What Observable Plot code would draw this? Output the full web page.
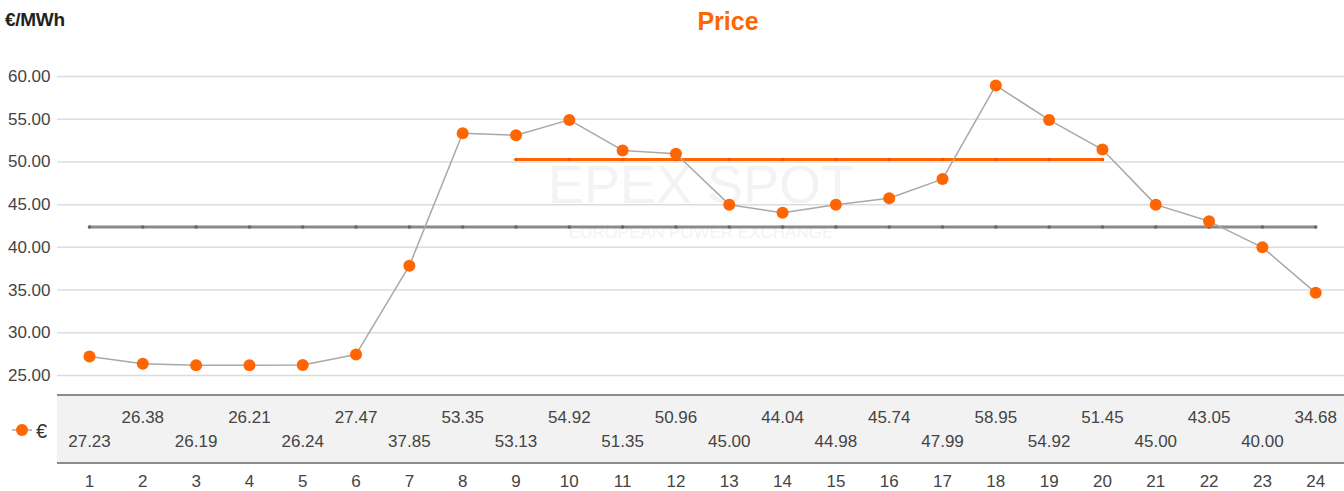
<!DOCTYPE html>
<html><head><meta charset="utf-8">
<script src="https://cdn.jsdelivr.net/npm/d3@7"></script>
<script src="https://cdn.jsdelivr.net/npm/@observablehq/plot@0.6"></script>
<style>
body{margin:0;background:#fff;font-family:"Liberation Sans",Arial,sans-serif;}
#wrap{position:relative;width:1344px;height:491px;overflow:hidden;}
#tablebg{position:absolute;left:57px;top:394px;width:1287px;height:66px;background:#f2f2f2;border-top:2px solid #8c8c8c;border-bottom:2px solid #8c8c8c;}
#title{position:absolute;left:0;width:1456px;top:7px;text-align:center;color:#ff6600;font-weight:bold;font-size:25px;}
#unit{position:absolute;left:5px;top:9px;font-weight:bold;font-size:19px;color:#222;letter-spacing:-0.3px;}
#legend{position:absolute;left:12px;top:420px;font-size:20px;color:#333;}
#chart{position:absolute;left:0;top:0;}
</style></head>
<body><div id="wrap">
<div id="tablebg"></div>
<div id="title">Price</div>
<div id="unit">€/MWh</div>
<div id="chart"></div>
<div id="legend"><svg width="24" height="20" style="vertical-align:-2px"><line x1="0" y1="10" x2="20" y2="10" stroke="#aaa" stroke-width="1.5"/><circle cx="10" cy="10" r="6" fill="#ff6600"/></svg>€</div>
</div>
<script>
const hours = d3.range(1, 25);
const prices = [27.23,26.38,26.19,26.21,26.24,27.47,37.85,53.35,53.13,54.92,51.35,50.96,45.00,44.04,44.98,45.74,47.99,58.95,54.92,51.45,45.00,43.05,40.00,34.68];
const yTicks = [25,30,35,40,45,50,55,60];
const baseAvg = 42.38;
const peakAvg = 50.29;
const peakHours = d3.range(9, 21);

const data = hours.map((h, i) => ({hour: h, price: prices[i]}));
const baseLine = hours.map(h => ({hour: h, v: baseAvg}));
const peakLine = peakHours.map(h => ({hour: h, v: peakAvg}));
const font = '"Liberation Sans",Arial,sans-serif';

const chart = Plot.plot({
  width: 1344, height: 491,
  marginTop: 76, marginBottom: 116, marginLeft: 57, marginRight: 0,
  style: {background: "transparent", fontFamily: font, fontSize: "17px", color: "#333"},
  x: {domain: [0.4, 24.54], axis: null},
  y: {domain: [25, 60], axis: null},
  marks: [
    Plot.ruleY(yTicks, {stroke: "#dcdcdc", strokeWidth: 1.5}),
    Plot.text(yTicks, {y: d => d, frameAnchor: "left", dx: -7, textAnchor: "end", text: d => d.toFixed(2), fill: "#444", fontSize: 17}),
    Plot.text(["EPEX SPOT"], {frameAnchor: "middle", dy: -40, text: d => d, fontSize: 54, fill: "#f3f3f3", fontWeight: 300}),
    Plot.text(["EUROPEAN POWER EXCHANGE"], {frameAnchor: "middle", dy: 7, text: d => d, fontSize: 17, fill: "#f3f3f3"}),
    Plot.line(baseLine, {x: "hour", y: "v", stroke: "#8a8a8a", strokeWidth: 3}),
    Plot.dot(baseLine, {x: "hour", y: "v", r: 1.8, fill: "#666"}),
    Plot.line(peakLine, {x: "hour", y: "v", stroke: "#ff6600", strokeWidth: 3}),
    Plot.dot(peakLine, {x: "hour", y: "v", r: 1.8, fill: "#e85a00"}),
    Plot.line(data, {x: "hour", y: "price", stroke: "#a8a8a8", strokeWidth: 1.5}),
    Plot.dot(data, {x: "hour", y: "price", r: 6, fill: "#ff6600"}),
    Plot.text(data.filter(d => d.hour % 2 === 0), {x: "hour", frameAnchor: "bottom", lineAnchor: "middle", dy: 42, text: d => d.price.toFixed(2), fill: "#444", fontSize: 17}),
    Plot.text(data.filter(d => d.hour % 2 === 1), {x: "hour", frameAnchor: "bottom", lineAnchor: "middle", dy: 66, text: d => d.price.toFixed(2), fill: "#444", fontSize: 17}),
    Plot.text(hours, {x: d => d, frameAnchor: "bottom", lineAnchor: "middle", dy: 106, text: d => String(d), fill: "#444", fontSize: 17})
  ]
});
document.getElementById("chart").appendChild(chart);
</script>
</body></html>
